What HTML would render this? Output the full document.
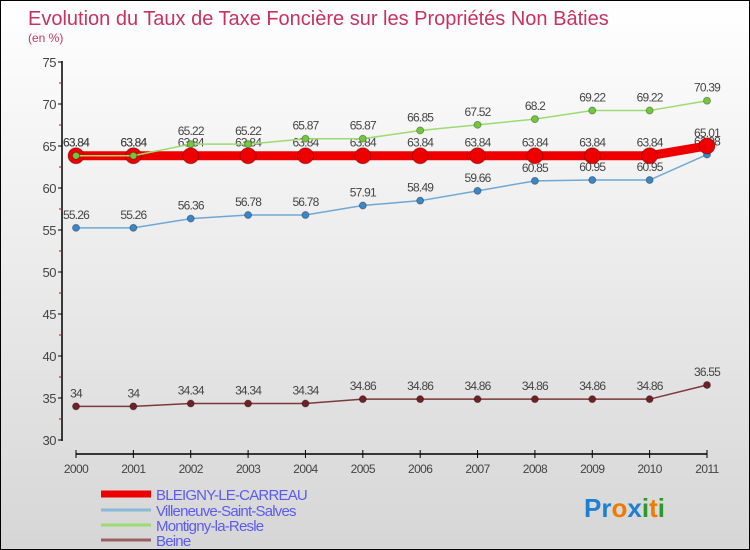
<!DOCTYPE html>
<html><head><meta charset="utf-8"><style>
body{margin:0;}
#wrap{width:748px;height:548px;border:1px solid #000;background:linear-gradient(#ffffff,#d6d6d6);position:relative;overflow:hidden;font-family:"Liberation Sans",sans-serif;}
svg{position:absolute;left:0;top:0;}
</style></head><body>
<div id="wrap">
<svg id="chart" width="750" height="550"></svg>
</div>
<script>
const years=["2000","2001","2002","2003","2004","2005","2006","2007","2008","2009","2010","2011"];
const bleigny=[63.84,63.84,63.84,63.84,63.84,63.84,63.84,63.84,63.84,63.84,63.84,65.01];
const villeneuve=[55.26,55.26,56.36,56.78,56.78,57.91,58.49,59.66,60.85,60.95,60.95,63.98];
const montigny=[63.84,63.84,65.22,65.22,65.87,65.87,66.85,67.52,68.2,69.22,69.22,70.39];
const beine=[34,34,34.34,34.34,34.34,34.86,34.86,34.86,34.86,34.86,34.86,36.55];
const yTicks=[30,35,40,45,50,55,60,65,70,75];
const seriesNames=["BLEIGNY-LE-CARREAU","Villeneuve-Saint-Salves","Montigny-la-Resle","Beine"];

const NS="http://www.w3.org/2000/svg";
const svg=document.getElementById('chart');
function mk(t,a,p){const e=document.createElementNS(NS,t);for(const k in a)e.setAttribute(k,a[k]);(p||svg).appendChild(e);return e;}
const x=i=>75+i*(706-75)/(years.length-1);
const y=v=>439-(v-30)*8.4;

let t=mk('text',{x:27,y:24,'font-size':20,fill:'#c8325f'});t.textContent='Evolution du Taux de Taxe Foncière sur les Propriétés Non Bâties';


t=mk('text',{x:27,y:41,'font-size':12,fill:'#c8325f'});t.textContent='(en %)';



// y axis
let ax=mk('line',{x1:61,y1:60,x2:61,y2:440,stroke:'#000','stroke-width':1.5});


yTicks.forEach(v=>{
  mk('line',{x1:57,y1:y(v),x2:61,y2:y(v),stroke:'#000'});
  if(v<75) mk('line',{x1:58,y1:y(v+2.5),x2:61,y2:y(v+2.5),stroke:'#d00'});
  const l=mk('text',{x:55,y:y(v)+5,'font-size':13,fill:'#444','text-anchor':'end','letter-spacing':'-0.5'});
  l.textContent=v;
  
  
});
// x axis
ax=mk('line',{x1:75,y1:453,x2:706,y2:453,stroke:'#000','stroke-width':1.5});


years.forEach((yr,i)=>{
  mk('line',{x1:x(i),y1:449,x2:x(i),y2:457,stroke:'#000'});
  const l=mk('text',{x:x(i),y:472,'font-size':12,fill:'#444','text-anchor':'middle','letter-spacing':'-0.6'});
  l.textContent=yr;
  
  
});

function series(data,color,width,r,fillc,name){
  const g=mk('g',{});
  
  
  mk('polyline',{points:data.map((v,i)=>x(i)+','+y(v)).join(' '),fill:'none',stroke:color,'stroke-width':width},g);
  data.forEach((v,i)=>{
    const c=mk('circle',{cx:x(i),cy:y(v),r:r,fill:fillc,stroke:'rgba(0,0,0,0.3)','stroke-width':1},g);
    
    
    const l=mk('text',{x:x(i),y:y(v)-9,'font-size':12,fill:'#444','text-anchor':'middle','letter-spacing':'-0.8'},g);
    l.textContent=v;
    
    
  });
}
series(beine,'#7a3a3a',1.5,3.5,'#6e2226','series-beine');
series(villeneuve,'#6fa8d6',1.5,3.5,'#3a86c6','series-villeneuve');
series(bleigny,'#ee0000',9,8,'#ee0000','series-bleigny');
series(montigny,'#9adb72',1.5,3.5,'#72c83c','series-montigny');

const lc=['#ee0000','#8ab8d8','#9adb72','#9a6060'],lw=[7,3,3,3],ly=[493,509,524,539];
seriesNames.forEach((n,i)=>{
  const g=mk('g',{});
  
  
  mk('line',{x1:100,y1:ly[i],x2:150,y2:ly[i],stroke:lc[i],'stroke-width':lw[i]},g);
  const l=mk('text',{x:155,y:ly[i]+6,'font-size':15,fill:'#5b5bf0','letter-spacing':'-0.8'},g);
  l.textContent=n;
});
const logo=mk('text',{x:583,y:516,'font-size':26,'font-weight':'bold'});


[['P','#1f7fd0'],['r','#1f7fd0'],['o','#f07a00'],['x','#1f7fd0'],['i','#2a9a2a'],['t','#f07a00'],['i','#2a9a2a']].forEach(([c,col])=>{
  const s=mk('tspan',{fill:col},logo);s.textContent=c;
});
</script>
</body></html>
